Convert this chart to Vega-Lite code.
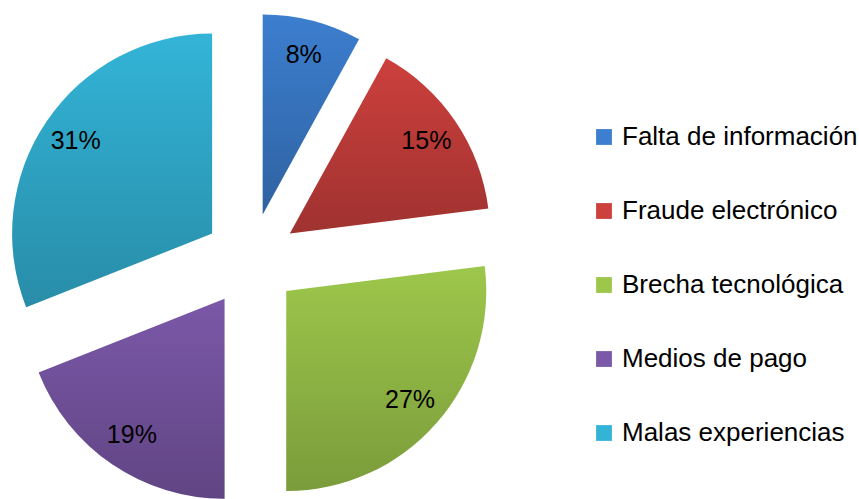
{
  "$schema": "https://vega.github.io/schema/vega-lite/v6.json",
  "width": 502,
  "height": 500,
  "autosize": {"type": "pad"},
  "padding": {"left": 0, "top": 10, "right": 0, "bottom": 0},
  "background": "white",
  "config": {"view": {"stroke": null}, "font": "Liberation Sans"},
  "data": {
    "values": [
      {"cat": "Falta de información", "pct": 0.08, "rank": 1},
      {"cat": "Fraude electrónico", "pct": 0.15, "rank": 2},
      {"cat": "Brecha tecnológica", "pct": 0.27, "rank": 3},
      {"cat": "Medios de pago", "pct": 0.19, "rank": 4},
      {"cat": "Malas experiencias", "pct": 0.31, "rank": 5}
    ]
  },
  "encoding": {
    "theta": {"field": "pct", "type": "quantitative", "stack": true},
    "order": {"field": "rank", "type": "quantitative"}
  },
  "layer": [
    {
      "mark": {
        "type": "arc",
        "outerRadius": 200,
        "xOffset": {"expr": "47*sin(PI*(datum.pct_start+datum.pct_end))"},
        "yOffset": {"expr": "-47*cos(PI*(datum.pct_start+datum.pct_end))"}
      },
      "encoding": {
        "color": {
          "field": "cat",
          "type": "nominal",
          "sort": ["Falta de información", "Fraude electrónico", "Brecha tecnológica", "Medios de pago", "Malas experiencias"],
          "scale": {
            "domain": ["Falta de información", "Fraude electrónico", "Brecha tecnológica", "Medios de pago", "Malas experiencias"],
            "range": ["#3c7ecf", "#cc403d", "#9dc74b", "#7b58a8", "#33b4d7"]
          },
          "legend": {
            "orient": "none",
            "legendX": 591,
            "legendY": 114,
            "title": null,
            "symbolType": "square",
            "symbolSize": 250,
            "symbolStrokeWidth": 0,
            "labelFontSize": 26,
            "labelFont": "Liberation Sans",
            "labelColor": "black",
            "labelOffset": 5,
            "labelLimit": 400,
            "rowPadding": 48
          }
        }
      }
    },
    {
      "mark": {
        "type": "arc",
        "outerRadius": 200,
        "xOffset": {"expr": "47*sin(PI*(datum.pct_start+datum.pct_end))"},
        "yOffset": {"expr": "-47*cos(PI*(datum.pct_start+datum.pct_end))"},
        "fill": {
          "gradient": "linear",
          "x1": 0, "y1": 0, "x2": 0, "y2": 1,
          "stops": [
            {"offset": 0, "color": "rgba(0,0,0,0)"},
            {"offset": 1, "color": "rgba(0,0,0,0.22)"}
          ]
        }
      }
    },
    {
      "mark": {
        "type": "text",
        "radius": 165,
        "fontSize": 25,
        "font": "Liberation Sans",
        "color": "black",
        "xOffset": {"expr": "47*sin(PI*(datum.pct_start+datum.pct_end))"},
        "yOffset": {"expr": "-47*cos(PI*(datum.pct_start+datum.pct_end))"}
      },
      "encoding": {
        "text": {"field": "pct", "type": "quantitative", "format": ".0%"}
      }
    }
  ]
}
